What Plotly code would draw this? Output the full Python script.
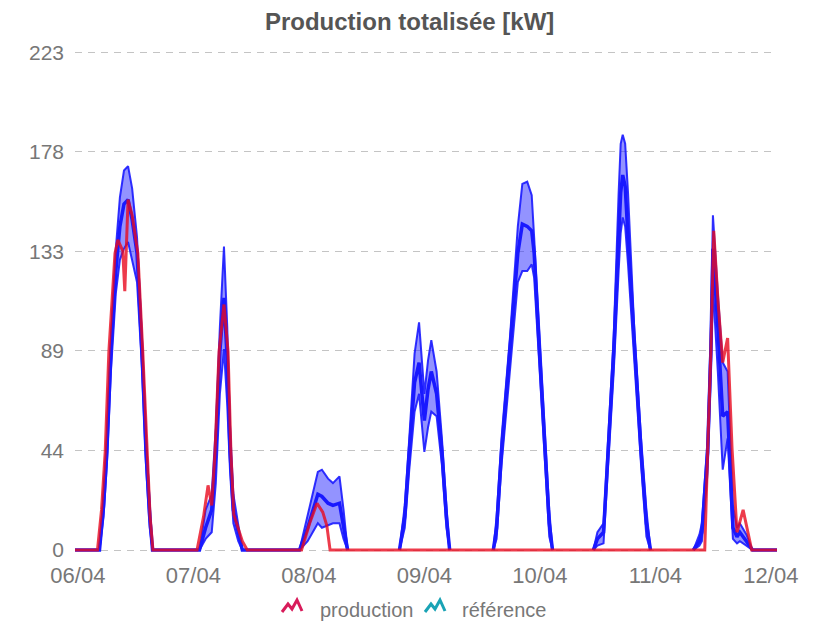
import pandas as pd
import plotly.graph_objects as go

# ---------------- data (hours since 06/04 00:00) ----------------
x_tick_labels = ["06/04", "07/04", "08/04", "09/04", "10/04", "11/04", "12/04"]

prod_hours = [0, 5.5, 6.5, 7.4, 8.3, 9.8, 10.5, 11.7, 12.2, 13.0, 14.0, 15.4, 16.6, 17.6, 18.4, 19.1,
              29.9, 31.5, 32.6, 33.5, 34.3, 35.3, 36.5, 37.5, 38.2, 38.9, 39.6, 41.0, 42.2,
              55.5, 57.5, 59.3, 60.7, 61.7, 62.5,
              154.3, 155.0, 155.8, 156.5, 157.6, 158.7, 159.9, 161.0, 162.2, 163.7, 165.8, 172.0]
prod_values = [0, 0, 18, 44, 89, 133, 139, 134, 116, 157, 150, 133, 89, 44, 15, 0,
               0, 15, 29, 20, 44, 89, 110, 89, 44, 16, 12, 4, 0,
               0, 12, 21, 17, 11, 0,
               0, 44, 89, 143, 110, 84, 95, 45, 8, 18, 0, 0]

ref_hours = [0, 6.0, 7.0, 7.8, 8.8, 10.0, 11.0, 12.0, 13.0, 14.0, 15.2, 16.4, 17.4, 18.3, 19.0,
             30.5, 32.0, 33.5, 34.5, 35.5, 36.5, 37.3, 38.0, 38.8, 40.0, 41.0,
             55.0, 57.0, 59.5, 60.5, 62.0, 63.2, 64.8, 65.8, 66.8, 72.0,
             79.5, 80.8, 81.9, 83.2, 84.3, 85.6, 86.5, 87.3, 88.6, 89.9, 91.0, 91.8, 97.0,
             102.5, 103.3, 104.5, 106.6, 108.5, 109.6, 110.8, 111.9, 112.5, 113.8, 115.1, 116.2, 117.0, 122.0,
             127.0, 128.0, 129.5, 130.6, 132.0, 133.2, 133.7, 134.2, 134.8, 135.5, 137.1, 138.7, 140.0, 141.0, 146.0,
             151.5, 153.0, 153.6, 155.0, 155.8, 156.3, 157.5, 158.7, 159.9, 161.2, 162.2, 162.9, 164.5, 166.0, 172.0]
ref_mid = [0, 0, 20, 44, 89, 125, 145, 155, 157, 148, 133, 89, 44, 15, 0,
           0, 10, 18, 44, 89, 113, 85, 44, 18, 8, 0,
           0, 10, 25, 24, 21, 20, 21, 10, 0, None,
           0, 15, 44, 75, 84, 58, 72, 80, 70, 44, 15, 0, None,
           0, 10, 44, 89, 133, 146, 145, 143, 133, 89, 44, 12, 0, None,
           0, 5, 8, 44, 89, 140, 160, 168, 163, 140, 89, 44, 12, 0, None,
           0, 4, 8, 44, 89, 135, 100, 60, 62, 10, 6, 8, 4, 0, 0]
ref_low = [0, 0, 15, 38, 80, 115, 130, 135, 138, 130, 120, 82, 38, 10, 0,
           0, 5, 8, 30, 70, 90, 65, 35, 12, 4, 0,
           0, 4, 12, 10, 11, 12, 12, 5, 0, None,
           0, 10, 36, 62, 70, 44, 55, 62, 60, 38, 10, 0, None,
           0, 5, 38, 82, 120, 125, 125, 128, 122, 82, 38, 6, 0, None,
           0, 2, 3, 35, 80, 125, 142, 149, 145, 128, 82, 38, 6, 0, None,
           0, 2, 4, 35, 80, 118, 80, 36, 50, 5, 3, 4, 2, 0, 0]
ref_high = [0, 0, 25, 50, 95, 135, 158, 170, 172, 162, 140, 95, 50, 20, 0,
            0, 18, 25, 55, 100, 136, 100, 55, 25, 12, 0,
            0, 15, 35, 36, 32, 30, 33, 18, 0, None,
            0, 20, 50, 88, 102, 70, 85, 94, 80, 50, 20, 0, None,
            0, 15, 50, 96, 145, 164, 165, 159, 140, 96, 50, 18, 0, None,
            0, 8, 12, 50, 96, 160, 182, 186, 182, 160, 96, 50, 18, 0, None,
            0, 7, 12, 50, 100, 150, 115, 84, 80, 20, 10, 12, 7, 0, 0]

y_max = 223
y_tick_vals = [0, 44.6, 89.2, 133.8, 178.4, 223]
y_tick_text = ["0", "44", "89", "133", "178", "223"]

# ---------------- figure ----------------
FONT = "Liberation Sans, Arial, sans-serif"
BLUE = "rgb(25,25,255)"
EDGE = "rgba(25,25,255,0.9)"

fig = go.Figure()
fig.add_trace(go.Scatter(x=ref_hours, y=ref_low, mode="lines", connectgaps=False,
                         line=dict(color=EDGE, width=2),
                         hoverinfo="skip", showlegend=False))
fig.add_trace(go.Scatter(x=ref_hours, y=ref_high, mode="lines", connectgaps=False,
                         fill="tonexty", fillcolor="rgba(40,40,255,0.5)",
                         line=dict(color=EDGE, width=2),
                         hoverinfo="skip", showlegend=False))
fig.add_trace(go.Scatter(x=ref_hours, y=ref_mid, mode="lines", connectgaps=False,
                         line=dict(color=BLUE, width=3.5), name="référence", showlegend=False))
fig.add_trace(go.Scatter(x=prod_hours, y=prod_values, mode="lines",
                         line=dict(color="rgba(232,10,30,0.8)", width=3),
                         name="production", showlegend=False))

x_end = prod_hours[-1]
first_tick, last_tick = 0.7, 170.5
n = len(x_tick_labels)
x_tick_vals = [first_tick + i * (last_tick - first_tick) / (n - 1) for i in range(n)]

fig.update_layout(
    width=816, height=623,
    margin=dict(l=75, r=39, t=50, b=68),
    paper_bgcolor="white", plot_bgcolor="white",
    font=dict(family=FONT, color="#777"),
    title=dict(text="<b>Production totalisée [kW]</b>", x=0.502, xref="container", xanchor="center",
               y=1 - 22 / 623, yref="container", yanchor="middle",
               font=dict(family=FONT, size=24, color="#555")),
    xaxis=dict(range=[0, x_end], tickvals=x_tick_vals, ticktext=x_tick_labels,
               showgrid=False, zeroline=False, showline=False, ticks="",
               ticklabelstandoff=5,
               tickfont=dict(size=22, color="#777"), fixedrange=True),
    yaxis=dict(range=[-2.2, 224], tickvals=y_tick_vals, ticktext=y_tick_text,
               showgrid=True, gridcolor="#c4c4c4", griddash="7px,6px", gridwidth=1,
               zeroline=False, showline=False, ticks="",
               ticklabelstandoff=10,
               tickfont=dict(size=21, color="#777"), fixedrange=True),
    showlegend=False,
)

# ---------------- custom legend (zig-zag icons) ----------------
PL, PR, PT, PB = 75, 777, 50, 555
def px(xp):
    return (xp - PL) / (PR - PL)
def py(yp):
    return (PB - yp) / (PB - PT)

def zigzag(x0, y0, color):
    pts = [(x0, y0 + 12), (x0 + 6, y0 + 4), (x0 + 10, y0 + 9), (x0 + 15, y0), (x0 + 20, y0 + 11)]
    d = "M " + " L ".join(f"{px(a):.5f},{py(b):.5f}" for a, b in pts)
    fig.add_shape(type="path", path=d, xref="paper", yref="paper",
                  line=dict(color=color, width=3))

zigzag(282, 600, "#d81b5a")
zigzag(425, 600, "#1aa3b5")
fig.add_annotation(text="production", x=px(318), y=py(610), xref="paper", yref="paper",
                   xanchor="left", yanchor="middle", showarrow=False,
                   font=dict(family=FONT, size=20, color="#777"))
fig.add_annotation(text="référence", x=px(460), y=py(610), xref="paper", yref="paper",
                   xanchor="left", yanchor="middle", showarrow=False,
                   font=dict(family=FONT, size=20, color="#777"))

fig.write_html("out.html")
